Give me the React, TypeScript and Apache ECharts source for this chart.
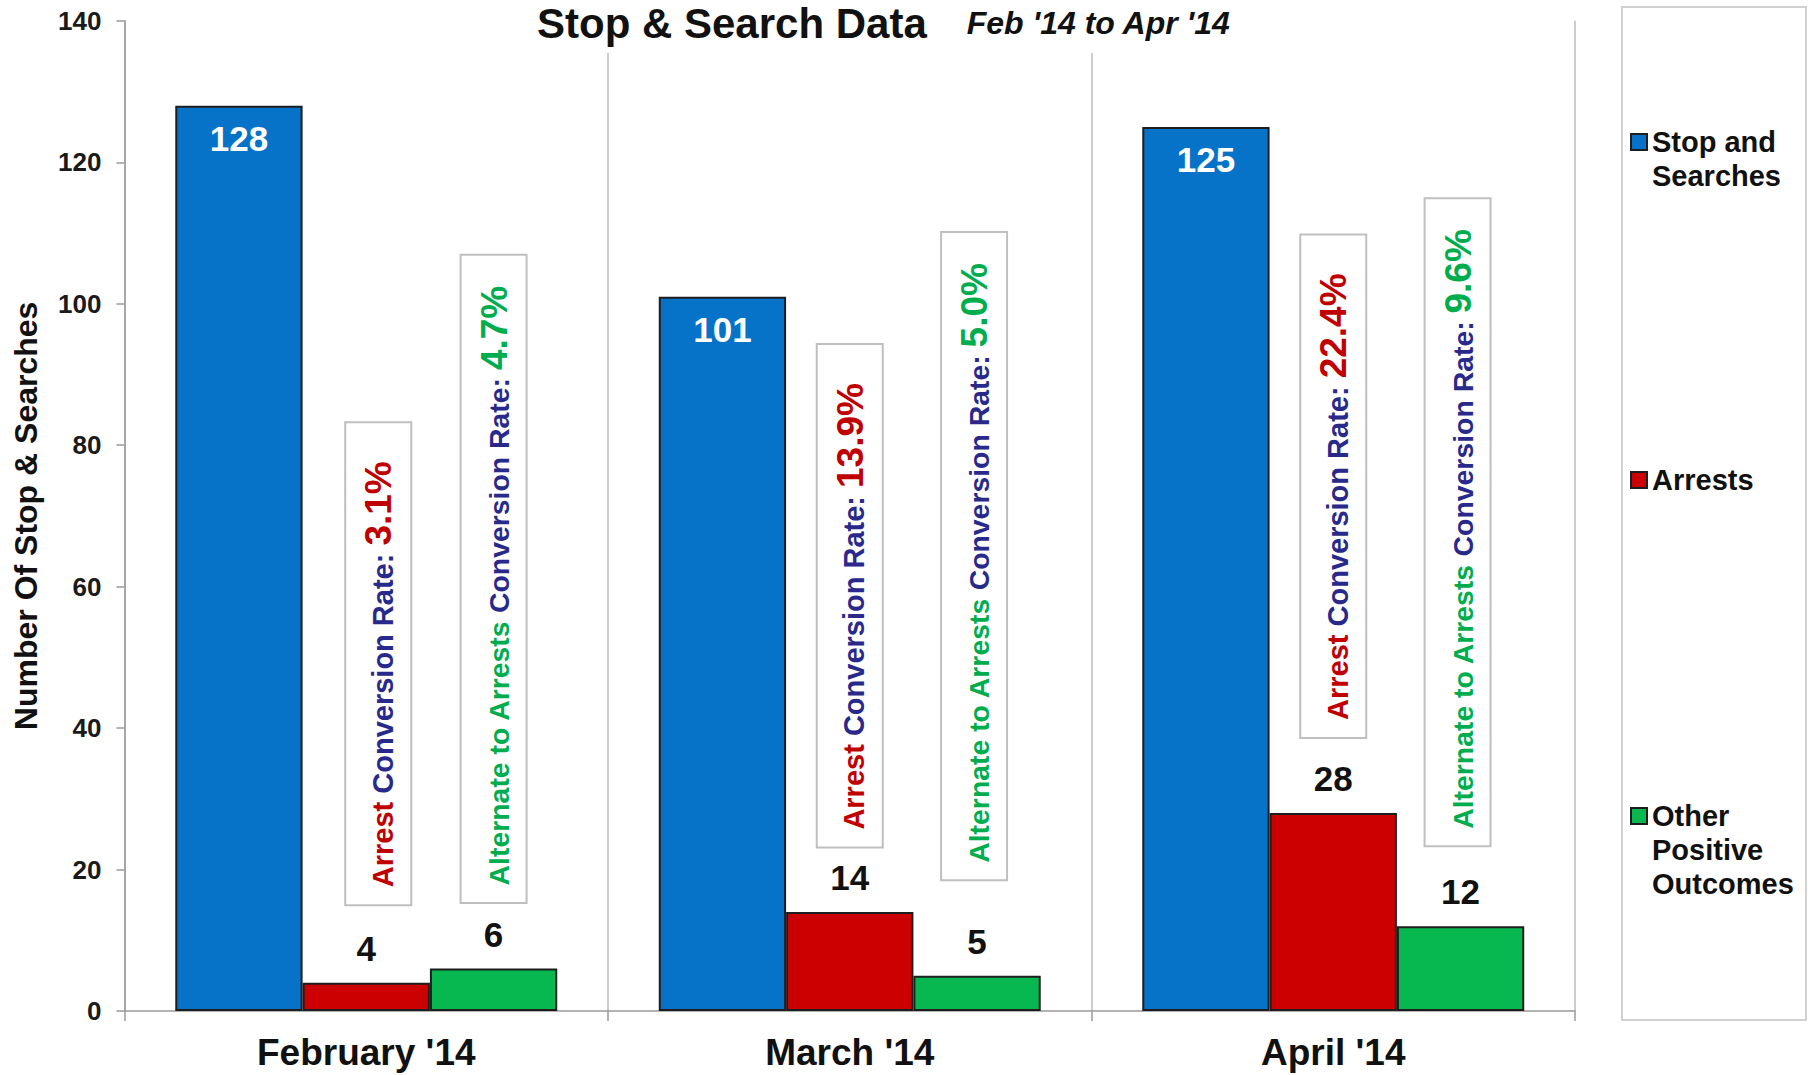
import React, { useEffect, useRef } from "react";
import * as echarts from "echarts";

const categories = ["February '14", "March '14", "April '14"];
const stopSearches = [128, 101, 125];
const arrests = [4, 14, 28];
const otherOutcomes = [6, 5, 12];
const yTicks = { min: 0, max: 140, interval: 20 };

// placement (axis units) of the centre of the rotated rate annotations
const arrestNoteY = [49.1, 58.7, 74.2];
const altNoteY = [61.1, 64.3, 69.1];
// small horizontal nudges (px) of the annotations
const arrestNoteDx = [12, 0, 0];
const altNoteDx = [0, -3, -3];

const FONT = "'Liberation Sans', Arial, sans-serif";
const BLUE = "#0673C9";
const RED = "#CC0000";
const GREEN = "#07B850";
const NAVY = "#29298C";
const DARKRED = "#C00000";
const NOTEGREEN = "#00AD4E";

const pct = (a: number, b: number) => ((a / b) * 100).toFixed(1) + "%";

export default function App() {
  const ref = useRef<HTMLDivElement>(null);
  useEffect(() => {
    if (!ref.current) return;
    const chart = echarts.init(ref.current, null, { renderer: "svg" });

    const tok = (color: string, size: number) => ({
      color,
      fontSize: size,
      fontWeight: "bold",
      fontFamily: FONT,
      verticalAlign: "bottom",
      lineHeight: 38,
    });

    const noteLabelBase = {
      show: true,
      position: "inside",
      rotate: 90,
      fontFamily: FONT,
      fontWeight: "bold",
      fontSize: 29,
      lineHeight: 38,
      backgroundColor: "#fff",
      borderColor: "#BFBFBF",
      borderWidth: 2,
    };

    // label offset is applied in the rotated frame: its y component moves the box sideways
    const arrestMarks = categories.map((c, i) => ({
      coord: [c, arrestNoteY[i]],
      label: {
        ...noteLabelBase,
        padding: [13, 38, 13, 17],
        offset: [0, arrestNoteDx[i]],
        formatter: `{r|Arrest} {n|Conversion Rate:} {rv|${pct(arrests[i], stopSearches[i])}}`,
        rich: {
          r: tok(DARKRED, 29),
          n: tok(NAVY, 29),
          rv: tok(DARKRED, 37),
        },
      },
    }));

    const altMarks = categories.map((c, i) => ({
      coord: [c, altNoteY[i]],
      label: {
        ...noteLabelBase,
        fontSize: 28.4,
        padding: [13, 30, 13, 16],
        offset: [0, altNoteDx[i]],
        formatter: `{g|Alternate to Arrests} {n|Conversion Rate:} {gv|${pct(otherOutcomes[i], stopSearches[i])}}`,
        rich: {
          g: tok(NOTEGREEN, 28.4),
          n: tok(NAVY, 28.4),
          gv: tok(NOTEGREEN, 37),
        },
      },
    }));

    const markBase = {
      symbol: "rect",
      symbolSize: 1,
      itemStyle: { color: "rgba(0,0,0,0)", borderWidth: 0 },
      silent: true,
    };

    const barBorder = { borderColor: "#1E1E1E", borderWidth: 2 };

    // leading blank lines keep the legend icon level with the first text line
    const legendNames: Record<string, string> = {
      "Stop and Searches": "\nStop and\nSearches",
      Arrests: "Arrests",
      "Other Positive Outcomes": "\n\nOther\nPositive\nOutcomes",
    };
    const legendBase = {
      orient: "vertical",
      left: 1630,
      padding: 0,
      itemWidth: 16,
      itemHeight: 16,
      icon: "rect",
      selectedMode: false,
      formatter: (n: string) => legendNames[n] || n,
      textStyle: {
        fontFamily: FONT,
        fontWeight: "bold",
        fontSize: 29,
        lineHeight: 34,
        color: "#111",
      },
    };

    const dataLabel = {
      show: true,
      color: "#111",
      fontFamily: FONT,
      fontWeight: "bold",
      fontSize: 35,
    };

    chart.setOption({
      animation: false,
      backgroundColor: "#fff",
      textStyle: { fontFamily: FONT },
      title: {
        text: "{a|Stop & Search Data}{g|}{b|Feb '14 to Apr '14}",
        left: 525,
        top: 0,
        padding: [1, 12, 9, 12],
        backgroundColor: "#fff",
        textStyle: {
          rich: {
            a: { fontFamily: FONT, fontSize: 42, lineHeight: 44, fontWeight: "bold", color: "#111" },
            g: { width: 40 },
            b: { fontFamily: FONT, fontSize: 32, lineHeight: 44, fontWeight: "bold", fontStyle: "italic", color: "#111" },
          },
        },
      },
      graphic: [
        {
          type: "rect",
          left: 1621,
          top: 6,
          shape: { width: 184, height: 1013 },
          style: { fill: "#fff", stroke: "#D0D0D0", lineWidth: 2 },
          z: -1,
        },
      ],
      legend: [
        { ...legendBase, top: 91, data: ["Stop and Searches"] },
        { ...legendBase, top: 463, data: ["Arrests"] },
        { ...legendBase, top: 731, data: ["Other Positive Outcomes"] },
      ],
      grid: {
        left: 124.5,
        right: 233,
        top: 20.8,
        bottom: 64,
        containLabel: false,
        outerBoundsMode: "none",
      },
      xAxis: {
        type: "category",
        data: categories,
        axisLine: { show: true, lineStyle: { color: "#9A9A9A", width: 1.5 } },
        axisTick: { show: true, length: 10, lineStyle: { color: "#9A9A9A", width: 1.5 } },
        splitLine: { show: true, lineStyle: { color: "#BDBDBD", width: 1.5 } },
        axisLabel: {
          fontFamily: FONT,
          fontWeight: "bold",
          fontSize: 37,
          color: "#111",
          margin: 23,
        },
      },
      yAxis: {
        type: "value",
        ...yTicks,
        name: "Number Of Stop & Searches",
        nameLocation: "middle",
        nameGap: 83,
        nameTextStyle: { fontFamily: FONT, fontWeight: "bold", fontSize: 32, color: "#111" },
        axisLine: { show: true, lineStyle: { color: "#9A9A9A", width: 1.5 } },
        axisTick: { show: true, length: 8, lineStyle: { color: "#9A9A9A", width: 1.5 } },
        splitLine: { show: false },
        axisLabel: {
          fontFamily: FONT,
          fontWeight: "bold",
          fontSize: 26,
          color: "#1A1A1A",
          margin: 23,
        },
      },
      series: [
        {
          name: "Stop and Searches",
          type: "bar",
          data: stopSearches,
          barGap: "0%",
          barCategoryGap: "21%",
          itemStyle: { color: BLUE, ...barBorder },
          label: { ...dataLabel, position: "insideTop", distance: 15, color: "#fff" },
        },
        {
          name: "Arrests",
          type: "bar",
          data: arrests,
          barGap: "0%",
          barCategoryGap: "21%",
          itemStyle: { color: RED, ...barBorder },
          label: { ...dataLabel, position: "top", distance: 17 },
          markPoint: { ...markBase, data: arrestMarks },
        },
        {
          name: "Other Positive Outcomes",
          type: "bar",
          data: otherOutcomes,
          barGap: "0%",
          barCategoryGap: "21%",
          itemStyle: { color: GREEN, ...barBorder },
          label: { ...dataLabel, position: "top", distance: 17 },
          markPoint: { ...markBase, data: altMarks },
        },
      ],
    });

    return () => chart.dispose();
  }, []);

  return (
    <div
      ref={ref}
      style={{ position: "fixed", left: 0, top: 0, width: 1808, height: 1075 }}
    />
  );
}
